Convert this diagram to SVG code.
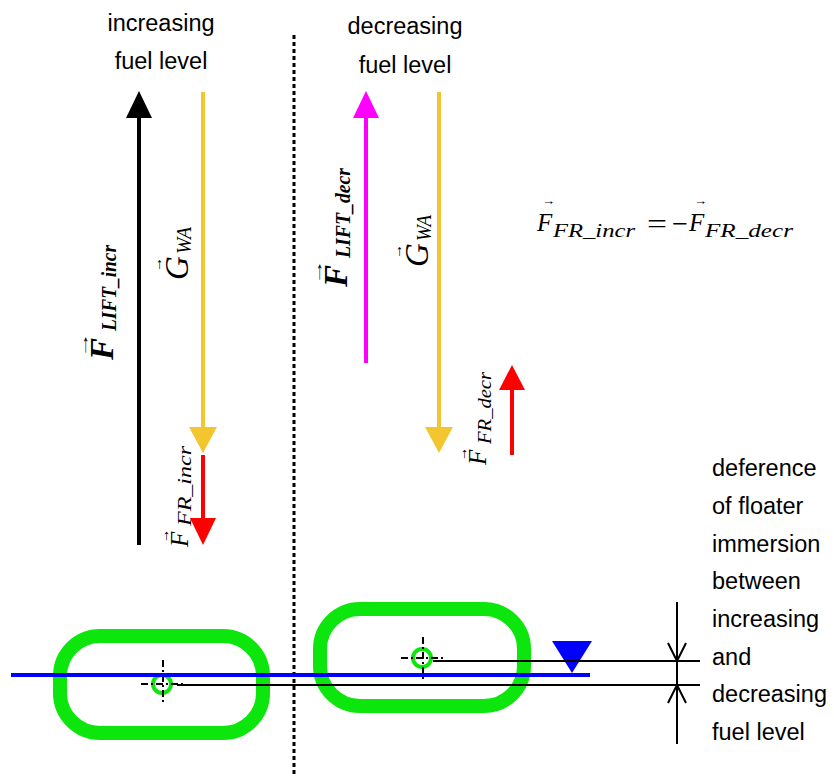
<svg xmlns="http://www.w3.org/2000/svg" width="834" height="776" viewBox="0 0 834 776">
<style>
.lbl{font-family:"Liberation Sans",Arial,sans-serif;font-size:23.5px;fill:#000}
.mi{font-family:"Liberation Serif","Times New Roman",serif;font-style:italic;fill:#000}
.mb{font-family:"Liberation Serif","Times New Roman",serif;font-style:italic;font-weight:bold;fill:#000}
.mr{font-family:"Liberation Serif","Times New Roman",serif;fill:#000}
.vec{font-family:"Liberation Sans",Arial,sans-serif;fill:#000}
.floater{fill:none;stroke:#0CE60C;stroke-width:14}
.hole{fill:none;stroke:#0CE60C;stroke-width:4}
.cl{stroke:#000;stroke-width:2;stroke-dasharray:7 3 2 3;fill:none}
.dim{stroke:#000;stroke-width:2;fill:none}
</style>
<rect width="834" height="776" fill="#fff"/>

<g id="divider">
<line x1="294" y1="35" x2="294" y2="776" stroke="#000" stroke-width="3" stroke-dasharray="4 3"/>
</g>

<g id="titles">
<text class="lbl" x="161" y="31" text-anchor="middle">increasing</text>
<text class="lbl" x="161" y="69" text-anchor="middle">fuel level</text>
<text class="lbl" x="405" y="34" text-anchor="middle">decreasing</text>
<text class="lbl" x="405" y="73" text-anchor="middle">fuel level</text>
</g>

<g id="note">
<text class="lbl" x="712" y="476">deference</text>
<text class="lbl" x="712" y="514">of floater</text>
<text class="lbl" x="712" y="552">immersion</text>
<text class="lbl" x="712" y="589">between</text>
<text class="lbl" x="712" y="627">increasing</text>
<text class="lbl" x="712" y="665">and</text>
<text class="lbl" x="712" y="702">decreasing</text>
<text class="lbl" x="712" y="740">fuel level</text>
</g>

<g id="connectors">
<line x1="139" y1="545" x2="139" y2="116" stroke="#000" stroke-width="4"/>
<polygon points="139,91 126,118 152,118" fill="#000"/>
<line x1="203" y1="92" x2="203" y2="430" stroke="#F3C52F" stroke-width="4"/>
<polygon points="203,453 189,427 217,427" fill="#F3C52F"/>
<line x1="203" y1="455" x2="203" y2="520" stroke="#FF0000" stroke-width="4"/>
<polygon points="203,545 190,518 216,518" fill="#FF0000"/>
<line x1="366" y1="363" x2="366" y2="116" stroke="#FF00FF" stroke-width="4"/>
<polygon points="366,91 353,118 379,118" fill="#FF00FF"/>
<line x1="439" y1="92" x2="439" y2="430" stroke="#F3C52F" stroke-width="4"/>
<polygon points="439,453 425,427 453,427" fill="#F3C52F"/>
<line x1="512" y1="455" x2="512" y2="388" stroke="#FF0000" stroke-width="4"/>
<polygon points="512,365 499,390 525,390" fill="#FF0000"/>
</g>

<g id="label-lift-incr" transform="translate(113,360) rotate(-90)">
<text class="vec" x="2" y="-25" font-size="14" textLength="26" lengthAdjust="spacingAndGlyphs">→</text>
<text class="mb" x="0" y="0" font-size="33">F</text>
<text class="mb" x="29" y="3" font-size="22" textLength="86" lengthAdjust="spacingAndGlyphs">LIFT_incr</text>
</g>

<g id="label-g-left" transform="translate(188,280) rotate(-90)">
<text class="vec" x="8" y="-26" font-size="15" textLength="15" lengthAdjust="spacingAndGlyphs">→</text>
<text class="mi" x="0" y="0" font-size="33">G</text>
<text class="mi" x="26" y="3" font-size="21" textLength="27" lengthAdjust="spacingAndGlyphs">WA</text>
</g>

<g id="label-fr-incr" transform="translate(188,547) rotate(-90)">
<text class="vec" x="4" y="-19" font-size="15" textLength="14" lengthAdjust="spacingAndGlyphs">→</text>
<text class="mi" x="0" y="0" font-size="25">F</text>
<text class="mi" x="21" y="3" font-size="19" textLength="80" lengthAdjust="spacingAndGlyphs">FR_incr</text>
</g>

<g id="label-lift-decr" transform="translate(347,287) rotate(-90)">
<text class="vec" x="2" y="-25" font-size="14" textLength="26" lengthAdjust="spacingAndGlyphs">→</text>
<text class="mb" x="0" y="0" font-size="33">F</text>
<text class="mb" x="29" y="3" font-size="22" textLength="90" lengthAdjust="spacingAndGlyphs">LIFT_decr</text>
</g>

<g id="label-g-right" transform="translate(428,267) rotate(-90)">
<text class="vec" x="8" y="-26" font-size="15" textLength="15" lengthAdjust="spacingAndGlyphs">→</text>
<text class="mi" x="0" y="0" font-size="33">G</text>
<text class="mi" x="26" y="3" font-size="21" textLength="26" lengthAdjust="spacingAndGlyphs">WA</text>
</g>

<g id="label-fr-decr" transform="translate(486,465) rotate(-90)">
<text class="vec" x="4" y="-19" font-size="15" textLength="14" lengthAdjust="spacingAndGlyphs">→</text>
<text class="mi" x="0" y="0" font-size="25">F</text>
<text class="mi" x="21" y="5" font-size="19" textLength="72" lengthAdjust="spacingAndGlyphs">FR_decr</text>
</g>

<g id="equation">
<text class="vec" x="542" y="205" font-size="13" textLength="13" lengthAdjust="spacingAndGlyphs">→</text>
<text class="mi" x="537" y="231" font-size="25">F</text>
<text class="mi" x="553" y="237" font-size="19" textLength="82" lengthAdjust="spacingAndGlyphs">FR_incr</text>
<text class="mr" x="647" y="233" font-size="28" textLength="20" lengthAdjust="spacingAndGlyphs">=</text>
<text class="mr" x="672" y="233" font-size="28" textLength="16" lengthAdjust="spacingAndGlyphs">−</text>
<text class="vec" x="694" y="205" font-size="13" textLength="13" lengthAdjust="spacingAndGlyphs">→</text>
<text class="mi" x="689" y="231" font-size="25">F</text>
<text class="mi" x="705" y="237" font-size="19" textLength="88" lengthAdjust="spacingAndGlyphs">FR_decr</text>
</g>

<g id="floater-incr">
<rect class="floater" x="60" y="636" width="203" height="97" rx="40"/>
<circle class="hole" cx="162" cy="684" r="9"/>
<line class="cl" x1="163" y1="660" x2="163" y2="704"/>
<line class="cl" x1="141" y1="684" x2="185" y2="684"/>
</g>

<g id="floater-decr">
<rect class="floater" x="320" y="609" width="204" height="97" rx="40"/>
<circle class="hole" cx="422" cy="658" r="9"/>
<line class="cl" x1="423" y1="637" x2="423" y2="679"/>
<line class="cl" x1="401" y1="658" x2="444" y2="658"/>
</g>

<g id="fuel-surface">
<line x1="11" y1="675" x2="590" y2="675" stroke="#0000FF" stroke-width="4"/>
<polygon points="552,641 592,641 572,673" fill="#0000FF"/>
</g>

<g id="dimension">
<line class="dim" x1="177" y1="685" x2="700" y2="685"/>
<line class="dim" x1="433" y1="661" x2="700" y2="661"/>
<line class="dim" x1="677" y1="602" x2="677" y2="744"/>
<polyline class="dim" points="668,643 677,661 686,643"/>
<polyline class="dim" points="668,703 677,685 686,703"/>
</g>
</svg>
